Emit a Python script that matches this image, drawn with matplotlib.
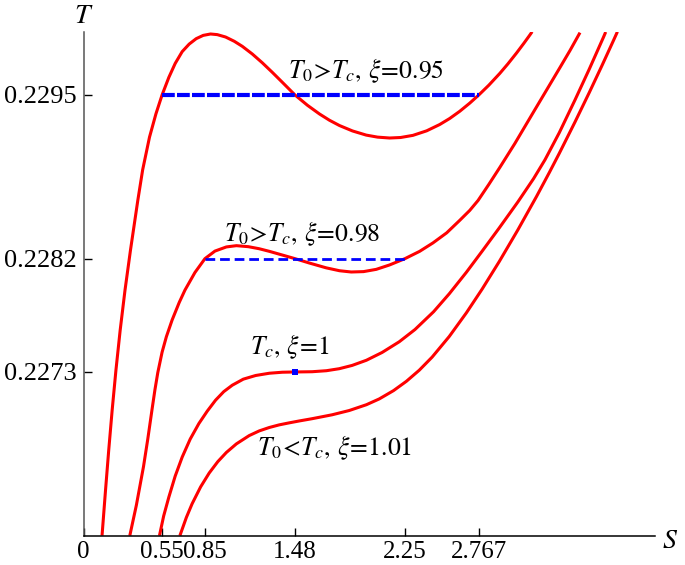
import matplotlib
matplotlib.use('Agg')
import matplotlib.pyplot as plt

plt.rcParams['font.family'] = ['Liberation Serif', 'DejaVu Serif']
plt.rcParams['mathtext.fontset'] = 'stix'
plt.rcParams['lines.scale_dashes'] = False

# curves (S, T)
s_095 = [0.1297, 0.1542, 0.1766, 0.2006, 0.2270, 0.2566, 0.2904, 0.3286, 0.3800, 0.4140,
         0.4620, 0.5070, 0.5500, 0.5975, 0.6417, 0.6907, 0.7398, 0.7889, 0.8380, 0.8892,
         0.9362, 0.9944, 1.0554, 1.1115, 1.1816, 1.2518, 1.3219, 1.3920, 1.4800, 1.5673,
         1.6515, 1.7216, 1.7917, 1.8829, 1.9790, 2.0582, 2.1424, 2.2195, 2.3058, 2.4018,
         2.4930, 2.5631, 2.6332, 2.7034, 2.7670, 2.8366, 2.9137, 2.9699, 3.0309, 3.0820,
         3.1241, 3.1400]
t_095 = [0.226000, 0.226362, 0.226680, 0.226997, 0.227314, 0.227631, 0.227949, 0.228266,
         0.228662, 0.228905, 0.229165, 0.229350, 0.229500, 0.229640, 0.229750, 0.229844,
         0.229904, 0.229947, 0.229973, 0.229984, 0.229979, 0.229960, 0.229926, 0.229886,
         0.229825, 0.229755, 0.229679, 0.229600, 0.229500, 0.229418, 0.229349, 0.229299,
         0.229257, 0.229214, 0.229181, 0.229165, 0.229158, 0.229162, 0.229179, 0.229215,
         0.229265, 0.229313, 0.229370, 0.229435, 0.229500, 0.229577, 0.229671, 0.229746,
         0.229833, 0.229910, 0.229976, 0.230002]

s_098 = [0.324, 0.370, 0.420, 0.450, 0.480, 0.500, 0.520, 0.550, 0.580, 0.620,
         0.670, 0.710, 0.780, 0.850, 0.920, 1.000, 1.070, 1.1536, 1.2286, 1.3008,
         1.3689, 1.480, 1.5813, 1.6985, 1.7917, 1.8738, 1.960, 2.0491, 2.1424, 2.250,
         2.3527, 2.4460, 2.5421, 2.6332, 2.7034, 2.7616, 2.8366, 2.9137, 3.0189, 3.1473,
         3.2433, 3.3345, 3.4046, 3.4750]
t_098 = [0.226000, 0.226242, 0.226549, 0.226768, 0.227005, 0.227159, 0.227295, 0.227457,
         0.227580, 0.227712, 0.227852, 0.227950, 0.228090, 0.228200, 0.228260, 0.228293,
         0.228303, 0.228295, 0.228279, 0.228258, 0.228236, 0.228200, 0.228165, 0.228127,
         0.228104, 0.228094, 0.228097, 0.228115, 0.228150, 0.228200, 0.228258, 0.228325,
         0.228405, 0.228504, 0.228583, 0.228662, 0.228789, 0.228924, 0.229114, 0.229360,
         0.229543, 0.229717, 0.229852, 0.229995]

s_100 = [0.5316, 0.5610, 0.5975, 0.6417, 0.6907, 0.7468, 0.8078, 0.8661, 0.9243, 0.9818,
         1.0414, 1.1185, 1.2048, 1.3008, 1.3920, 1.480, 1.600, 1.700, 1.790, 1.880,
         1.980, 2.090, 2.210, 2.320, 2.450, 2.560, 2.680, 2.790, 2.910, 3.040,
         3.150, 3.230, 3.330, 3.440, 3.540, 3.640, 3.655]
t_100 = [0.226000, 0.226156, 0.226307, 0.226473, 0.226624, 0.226767, 0.226891, 0.226989,
         0.227076, 0.227144, 0.227195, 0.227243, 0.227272, 0.227290, 0.227298, 0.227300,
         0.227302, 0.227310, 0.227326, 0.227352, 0.227393, 0.227455, 0.227540, 0.227637,
         0.227778, 0.227921, 0.228092, 0.228259, 0.228444, 0.228650, 0.228835, 0.228985,
         0.229200, 0.229460, 0.229705, 0.229960, 0.230000]

s_101 = [0.6746, 0.720, 0.760, 0.820, 0.880, 0.940, 1.000, 1.070, 1.160, 1.230,
         1.300, 1.370, 1.440, 1.510, 1.600, 1.740, 1.860, 1.980, 2.070, 2.170,
         2.260, 2.350, 2.440, 2.560, 2.680, 2.790, 2.910, 3.040, 3.170, 3.260,
         3.330, 3.440, 3.540, 3.630, 3.710, 3.737]
t_101 = [0.226000, 0.226145, 0.226253, 0.226388, 0.226498, 0.226588, 0.226661, 0.226729,
         0.226795, 0.226832, 0.226859, 0.226880, 0.226896, 0.226911, 0.226929, 0.226960,
         0.226994, 0.227040, 0.227086, 0.227152, 0.227226, 0.227314, 0.227418, 0.227582,
         0.227770, 0.227958, 0.228177, 0.228428, 0.228692, 0.228883, 0.229036, 0.229285,
         0.229519, 0.229736, 0.229934, 0.230002]

# equal area lines and critical point
line_095 = [0.55, 2.767]
t0_095 = 0.2295
line_098 = [0.85, 2.25]
t0_098 = 0.2282
s_crit = 1.48
t_crit = 0.2273

xticks = [0, 0.55, 0.85, 1.48, 2.25, 2.767]
xtick_labels = ['0', '0.55', '0.85', '1.48', '2.25', '2.767']
yticks = [0.2273, 0.2282, 0.2295]
ytick_labels = ['0.2273', '0.2282', '0.2295']

fig = plt.figure(figsize=(6.85, 5.65), dpi=100)
ax = fig.add_axes([0.1219, 0.0519, 0.8343, 0.8915])

for s, t in [(s_095, t_095), (s_098, t_098), (s_100, t_100), (s_101, t_101)]:
    ax.plot(s, t, color='#ff0000', lw=2.2, solid_joinstyle='round', solid_capstyle='butt')

ax.plot(line_095, [t0_095, t0_095], color='#0000ff', lw=3.0,
        dashes=(9.2, 1.6), dash_capstyle='butt')
ax.plot(line_098, [t0_098, t0_098], color='#0000ff', lw=2.0,
        dashes=(7.0, 3.5), dash_capstyle='butt')
ax.plot([s_crit], [t_crit], 's', color='#0000ff', ms=4, mew=0)

ax.text(1.975, 0.22969, r'$T_0\!>\!T_c,\,\xi\!=\!0.95$', fontsize=18.5, ha='center', va='center')
ax.text(1.533, 0.22840, r'$T_0\!>\!T_c,\,\xi\!=\!0.98$', fontsize=18.5, ha='center', va='center')
ax.text(1.441, 0.22750, r'$T_c,\,\xi\!=\!1$', fontsize=18.5, ha='center', va='center')
ax.text(1.757, 0.22670, r'$T_0\!<\!T_c,\,\xi\!=\!1.01$', fontsize=18.5, ha='center', va='center')

ax.set_xlim(0, 4)
ax.set_ylim(0.226, 0.230)
ax.set_xticks(xticks)
ax.set_xticklabels(xtick_labels)
ax.set_yticks(yticks)
ax.set_yticklabels(ytick_labels)
ax.tick_params(direction='in', length=6, width=1, labelsize=18)
ax.tick_params(axis='y', labelsize=19, pad=5)
ax.tick_params(axis='x', pad=4)

ax.spines['top'].set_visible(False)
ax.spines['right'].set_visible(False)
ax.spines['left'].set_color('#555555')
ax.spines['left'].set_linewidth(1.1)
ax.spines['bottom'].set_linewidth(1.1)

ax.text(0.0, 1.03, r'$T$', transform=ax.transAxes, fontsize=20, ha='center', va='center')
ax.text(1.027, -0.012, r'$S$', transform=ax.transAxes, fontsize=20, ha='center', va='center')

fig.savefig('out.png', dpi=100)
